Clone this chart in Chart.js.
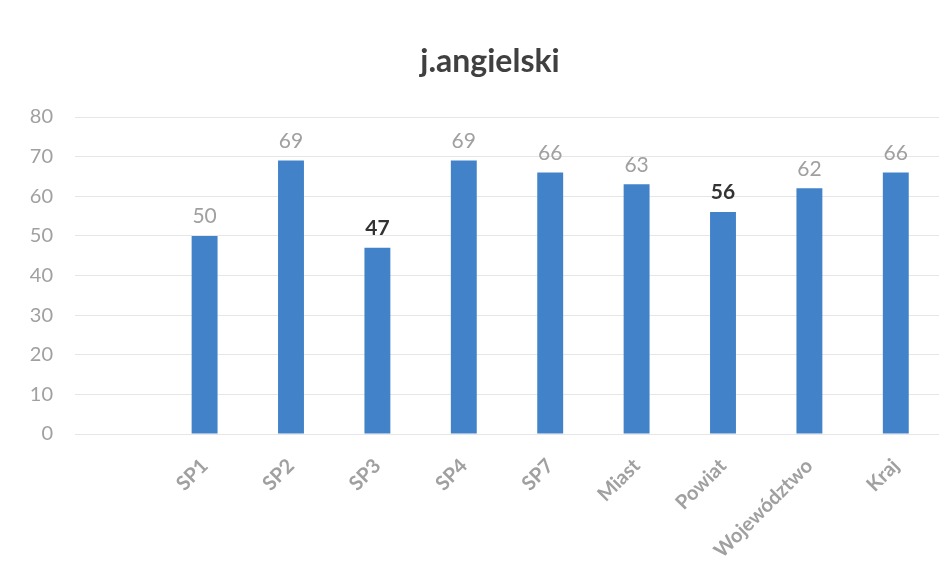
<!DOCTYPE html>
<html>
<head>
<meta charset="utf-8">
<script src="https://cdn.jsdelivr.net/npm/chart.js@4/dist/chart.umd.min.js"></script>
<style>
  html, body { margin: 0; padding: 0; background: #fff; }
  #wrap { width: 939px; height: 582px; }
</style>
</head>
<body>
<div id="wrap"><canvas id="chart" width="939" height="582"></canvas></div>
<script>
// dane wykresu (pierwsza kategoria pusta, jak w oryginale)
const chartTitle = 'j.angielski';
const categories = ['', 'SP1', 'SP2', 'SP3', 'SP4', 'SP7', 'Miast', 'Powiat', 'Województwo', 'Kraj'];
const values = [null, 50, 69, 47, 69, 66, 63, 56, 62, 66];
const labelColors = [null, '#a0a0a0', '#a0a0a0', '#333333', '#a0a0a0', '#a0a0a0', '#a0a0a0', '#333333', '#a0a0a0', '#a0a0a0'];
const yTicks = [0, 10, 20, 30, 40, 50, 60, 70, 80];

// etykiety wartości nad słupkami + tytuł
const valueLabels = {
    id: 'valueLabels',
    afterDatasetsDraw(chart) {
        const ctx = chart.ctx;
        const meta = chart.getDatasetMeta(0);
        ctx.save();
        ctx.textAlign = 'center';
        ctx.textBaseline = 'bottom';
        meta.data.forEach((bar, i) => {
            if (values[i] == null) return;
            ctx.fillStyle = labelColors[i];
            ctx.font = (labelColors[i] === '#333333' ? 'bold ' : '') + '21px Lato';
            ctx.fillText(values[i], bar.x, bar.y - 9);
        });
        // tytuł (przesunięty w prawo jak w oryginale)
        ctx.fillStyle = '#404040';
        ctx.font = 'bold 32px Lato';
        ctx.textBaseline = 'middle';
        ctx.fillText(chartTitle, 490, 62);
        ctx.restore();
    }
};

new Chart(document.getElementById('chart'), {
    type: 'bar',
    data: {
        labels: categories,
        datasets: [{
            data: values,
            backgroundColor: '#4282c9',
            categoryPercentage: 1,
            barPercentage: 0.3
        }]
    },
    options: {
        responsive: false,
        animation: false,
        layout: { padding: { left: 0, right: 0, top: 117, bottom: 0 } },
        plugins: {
            legend: { display: false },
            tooltip: { enabled: false },
            title: { display: false }
        },
        scales: {
            x: {
                grid: { display: false },
                border: { display: false },
                ticks: {
                    color: '#a0a0a0',
                    font: { family: 'Lato', size: 20, weight: 'bold' },
                    minRotation: 45,
                    maxRotation: 45,
                    padding: 12
                },
                afterFit(scale) { scale.height = 148; }
            },
            y: {
                min: 0,
                max: 80,
                afterBuildTicks(scale) { scale.ticks = yTicks.map(v => ({ value: v })); },
                grid: { color: '#e6e6e6', drawTicks: false },
                border: { display: false },
                ticks: {
                    color: '#a0a0a0',
                    font: { family: 'Lato', size: 20 },
                    padding: 22
                },
                afterFit(scale) { scale.width = 75; }
            }
        }
    },
    plugins: [valueLabels]
});
</script>
</body>
</html>
